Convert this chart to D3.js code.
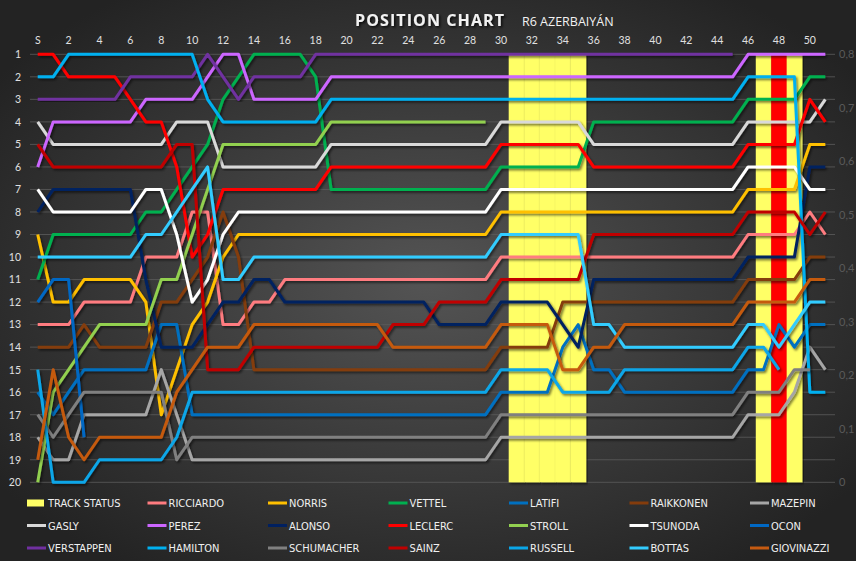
<!DOCTYPE html>
<html><head><meta charset="utf-8">
<script src="https://cdn.jsdelivr.net/npm/d3@7/dist/d3.min.js"></script>
<style>html,body{margin:0;padding:0;background:#2a2a2a;overflow:hidden}</style>
</head><body><svg id="c" width="856" height="561"></svg>
<script>
// ---------- DATA ----------
const categories = ["S","1","2","3","4","5","6","7","8","9","10","11","12","13","14","15","16","17","18","19","20","21","22","23","24","25","26","27","28","29","30","31","32","33","34","35","36","37","38","39","40","41","42","43","44","45","46","47","48","49","50","51"];
const topTickLabels = ["S","2","4","6","8","10","12","14","16","18","20","22","24","26","28","30","32","34","36","38","40","42","44","46","48","50"];
const positionTicks = [1,2,3,4,5,6,7,8,9,10,11,12,13,14,15,16,17,18,19,20];
const secondaryTicks = [0,0.1,0.2,0.3,0.4,0.5,0.6,0.7,0.8];
// track status per lap: "" none, "Y" yellow / safety car, "R" red flag
const trackStatus = ["","","","","","","","","","","","","","","","","","","","","","","","","","","","","","","","Y","Y","Y","Y","Y","","","","","","","","","","","","Y","R","Y","",""];
const trackValue = 0.8;

const _ = null;
const RICCIARDO  = [13,13,13,12,12,12,12,10,10,10, 8,8,13,13,12,12,11,11,11,11, 11,11,11,11,11,11,11,11,11,11, 10,10,10,10,10,10,10,10,10,10, 10,10,10,10,10,10,9,9,9,9, 8,9];
const NORRIS     = [9,12,12,11,11,11,11,12,17,15, 13,12,10,9,9,9,9,9,9,9, 9,9,9,9,9,9,9,9,9,9, 8,8,8,8,8,8,8,8,8,8, 8,8,8,8,8,8,7,7,7,7, 5,5];
const VETTEL     = [11,9,9,9,9,9,9,8,8,7, 6,5,3,2,1,1,1,1,2,7, 7,7,7,7,7,7,7,7,7,7, 6,6,6,6,6,6,4,4,4,4, 4,4,4,4,4,4,3,3,3,3, 2,2];
const LATIFI     = [16,17,16,15,15,15,15,15,13,13, 17,17,17,17,17,17,17,17,17,17, 17,17,17,17,17,17,17,17,17,17, 16,16,16,16,14,13,15,15,16,16, 16,16,16,16,16,16,15,15,13,14, 13,13];
const RAIKKONEN  = [14,14,14,13,14,14,14,14,12,12, 11,10,8,10,15,15,15,15,15,15, 15,15,15,15,15,15,15,15,15,15, 14,14,14,14,12,12,12,12,12,12, 12,12,12,12,12,12,11,11,11,11, 10,10];
const MAZEPIN    = [18,19,19,17,17,17,17,17,15,17, 19,19,19,19,19,19,19,19,19,19, 19,19,19,19,19,19,19,19,19,19, 18,18,18,18,18,18,18,18,18,18, 18,18,18,18,18,18,17,17,17,16, 14,15];
const GASLY      = [4,5,5,5,5,5,5,5,5,4, 4,4,6,6,6,6,6,6,6,5, 5,5,5,5,5,5,5,5,5,5, 4,4,4,4,4,4,5,5,5,5, 5,5,5,5,5,5,4,4,4,4, 4,3];
const PEREZ      = [6,4,4,4,4,4,4,3,3,3, 3,2,1,1,3,3,3,3,3,2, 2,2,2,2,2,2,2,2,2,2, 2,2,2,2,2,2,2,2,2,2, 2,2,2,2,2,2,1,1,1,1, 1,1];
const ALONSO     = [8,7,7,7,7,7,7,11,14,14, 14,13,12,12,11,11,12,12,12,12, 12,12,12,12,12,12,13,13,13,13, 12,12,12,12,13,14,11,11,11,11, 11,11,11,11,11,11,10,10,10,10, 6,6];
const LECLERC    = [1,1,2,2,2,2,3,4,4,6, 10,9,7,7,7,7,7,7,7,6, 6,6,6,6,6,6,6,6,6,6, 5,5,5,5,5,5,6,6,6,6, 6,6,6,6,6,6,5,5,5,5, 3,4];
const STROLL     = [20,16,15,14,13,13,13,13,11,11, 9,7,5,5,5,5,5,5,5,4, 4,4,4,4,4,4,4,4,4,4, _,_,_,_,_,_,_,_,_,_, _,_,_,_,_,_,_,_,_,_, _,_];
const TSUNODA    = [7,8,8,8,8,8,8,7,7,9, 12,11,9,8,8,8,8,8,8,8, 8,8,8,8,8,8,8,8,8,8, 7,7,7,7,7,7,7,7,7,7, 7,7,7,7,7,7,6,6,6,6, 7,7];
const OCON       = [12,11,11,18,_,_,_,_,_,_, _,_,_,_,_,_,_,_,_,_, _,_,_,_,_,_,_,_,_,_, _,_,_,_,_,_,_,_,_,_, _,_,_,_,_,_,_,_,_,_, _,_];
const VERSTAPPEN = [3,3,3,3,3,3,2,2,2,2, 2,1,2,3,2,2,2,2,1,1, 1,1,1,1,1,1,1,1,1,1, 1,1,1,1,1,1,1,1,1,1, 1,1,1,1,1,1,_,_,_,_, _,_];
const HAMILTON   = [2,2,1,1,1,1,1,1,1,1, 1,3,4,4,4,4,4,4,4,3, 3,3,3,3,3,3,3,3,3,3, 3,3,3,3,3,3,3,3,3,3, 3,3,3,3,3,3,2,2,2,2, 16,16];
const SCHUMACHER = [17,18,17,16,16,16,16,16,16,19, 18,18,18,18,18,18,18,18,18,18, 18,18,18,18,18,18,18,18,18,18, 17,17,17,17,17,17,17,17,17,17, 17,17,17,17,17,17,16,16,16,15, 15,_];
const SAINZ      = [5,6,6,6,6,6,6,6,6,5, 5,15,15,15,14,14,14,14,14,14, 14,14,14,13,13,13,12,12,12,12, 11,11,11,11,11,11,9,9,9,9, 9,9,9,9,9,9,8,8,8,8, 9,8];
const RUSSELL    = [15,20,20,20,19,19,19,19,19,18, 16,16,16,16,16,16,16,16,16,16, 16,16,16,16,16,16,16,16,16,16, 15,15,15,15,16,16,16,16,15,15, 15,15,15,15,15,15,14,14,15,_, _,_];
const BOTTAS     = [10,10,10,10,10,10,10,9,9,8, 7,6,11,11,10,10,10,10,10,10, 10,10,10,10,10,10,10,10,10,10, 9,9,9,9,9,9,13,13,14,14, 14,14,14,14,14,14,13,13,14,13, 12,12];
const GIOVINAZZI = [19,15,18,19,18,18,18,18,18,16, 15,14,14,14,13,13,13,13,13,13, 13,13,13,14,14,14,14,14,14,14, 13,13,13,13,15,15,14,14,13,13, 13,13,13,13,13,13,12,12,12,12, 11,11];

const driverNames = ["RICCIARDO","NORRIS","VETTEL","LATIFI","RAIKKONEN","MAZEPIN","GASLY","PEREZ","ALONSO","LECLERC","STROLL","TSUNODA","OCON","VERSTAPPEN","HAMILTON","SCHUMACHER","SAINZ","RUSSELL","BOTTAS","GIOVINAZZI"];
const driverValues = [RICCIARDO,NORRIS,VETTEL,LATIFI,RAIKKONEN,MAZEPIN,GASLY,PEREZ,ALONSO,LECLERC,STROLL,TSUNODA,OCON,VERSTAPPEN,HAMILTON,SCHUMACHER,SAINZ,RUSSELL,BOTTAS,GIOVINAZZI];
const driverColors = ["#FF7C80","#FFC000","#00B050","#0070C0","#843C0C","#A6A6A6","#D9D9D9","#CC66FF","#002060","#FF0000","#92D050","#FFFFFF","#0068C4","#7030A0","#00B0F0","#808080","#C00000","#0AA6E8","#33CCFF","#C55A11"];

// ---------- CHART ----------
const W = 856, H = 561;
const svg = d3.select("#c");
const defs = svg.append("defs");
const rg = defs.append("radialGradient").attr("id","bg").attr("cx","50%").attr("cy","50%").attr("r","62%");
rg.append("stop").attr("offset","0%").attr("stop-color","#545454");
rg.append("stop").attr("offset","100%").attr("stop-color","#232323");
const sh = defs.append("filter").attr("id","sh").attr("x","-5%").attr("y","-5%").attr("width","110%").attr("height","110%");
sh.append("feDropShadow").attr("dx",1.5).attr("dy",1.8).attr("stdDeviation",1.2).attr("flood-color","#000").attr("flood-opacity",0.55);
const tsh = defs.append("filter").attr("id","tsh");
tsh.append("feDropShadow").attr("dx",1.5).attr("dy",1.5).attr("stdDeviation",1.2).attr("flood-color","#000").attr("flood-opacity",0.8);

svg.append("rect").attr("width",W).attr("height",H).attr("fill","url(#bg)");

const x = d3.scaleBand().domain(categories).range([30,833]).padding(0);
const xc = c => x(c) + x.bandwidth()/2;
const y = d3.scaleLinear().domain([1,20]).range([54.3,482.3]);
const y2 = d3.scaleLinear().domain([0,0.8]).range([482.3,54.3]);

// gridlines
svg.append("g").selectAll("line").data(positionTicks).join("line")
  .attr("x1",30).attr("x2",835).attr("y1",d=>y(d)).attr("y2",d=>y(d))
  .attr("stroke","#5c5c5c").attr("stroke-width",1).attr("opacity",0.8);

// track status bars (secondary axis)
svg.append("g").selectAll("rect").data(categories.map((c,i)=>({c,s:trackStatus[i]})).filter(d=>d.s))
  .join("rect")
  .attr("x",d=>x(d.c)).attr("width",x.bandwidth()+0.3)
  .attr("y",y2(trackValue)).attr("height",y2(0)-y2(trackValue))
  .attr("fill",d=>d.s==="R"?"#FF0000":"#FFFF66")
  .attr("filter","url(#sh)");

// driver lines
const line = d3.line().defined(d=>d!=null).x((d,i)=>xc(categories[i])).y(d=>y(d));
const lg = svg.append("g");
driverValues.forEach((vals,k)=>{
  lg.append("path").datum(vals).attr("d",line)
    .attr("fill","none").attr("stroke",driverColors[k]).attr("stroke-width",3)
    .attr("stroke-linejoin","round").attr("filter","url(#sh)");
});

// axes
const topAxis = d3.axisTop(x).tickValues(topTickLabels).tickSize(0).tickPadding(0);
const ta = svg.append("g").attr("transform","translate(0,44)").call(topAxis);
ta.select(".domain").remove();
ta.selectAll("text").attr("fill","#e0e0e0").style("font-family","Lato, 'Open Sans', sans-serif").style("font-size","10.5px");

const leftAxis = d3.axisLeft(y).tickValues(positionTicks).tickSize(0).tickPadding(0).tickFormat(d3.format("d"));
const la = svg.append("g").attr("transform","translate(21,0)").call(leftAxis);
la.select(".domain").remove();
la.selectAll("text").attr("fill","#e0e0e0").style("font-family","Lato, 'Open Sans', sans-serif").style("font-size","10.5px");

const rightAxis = d3.axisRight(y2).tickValues(secondaryTicks).tickSize(0).tickPadding(0)
  .tickFormat(d => d===0 ? "0" : d.toFixed(1).replace(".",","));
const ra = svg.append("g").attr("transform","translate(839,0)").call(rightAxis);
ra.select(".domain").remove();
ra.selectAll("text").attr("fill","#5a5a5a").style("font-family","Lato, 'Open Sans', sans-serif").style("font-size","11px");

// title
svg.append("text").attr("x",355).attr("y",26).text("POSITION CHART")
  .attr("fill","#f2f2f2").style("font-family","'Open Sans', sans-serif").style("font-weight","700")
  .style("font-size","16px").style("letter-spacing","1.1px").attr("filter","url(#tsh)");
svg.append("text").attr("x",522).attr("y",26).text("R6 AZERBAIYÁN")
  .attr("fill","#f2f2f2").style("font-family","'Open Sans', sans-serif").style("font-size","12.5px");

// legend
const legendItems = [{name:"TRACK STATUS",color:"#FFFF66",rect:true}].concat(driverNames.map((n,k)=>({name:n,color:driverColors[k]})));
const lgd = svg.append("g");
legendItems.forEach((it,i)=>{
  const col = i % 7, row = Math.floor(i/7);
  const x0 = 27 + col*120.5, yy = 503 + row*22.5;
  if (it.rect) {
    lgd.append("rect").attr("x",x0).attr("y",yy-3.5).attr("width",17).attr("height",7).attr("fill",it.color);
  } else {
    lgd.append("line").attr("x1",x0).attr("x2",x0+19).attr("y1",yy).attr("y2",yy)
      .attr("stroke",it.color).attr("stroke-width",3);
  }
  lgd.append("text").attr("x",x0+21).attr("y",yy+4).text(it.name)
    .attr("fill","#f0f0f0").style("font-family","'Liberation Sans Narrow','DejaVu Sans Condensed','Arial Narrow',sans-serif")
    .style("font-size","11px");
});
</script></body></html>
